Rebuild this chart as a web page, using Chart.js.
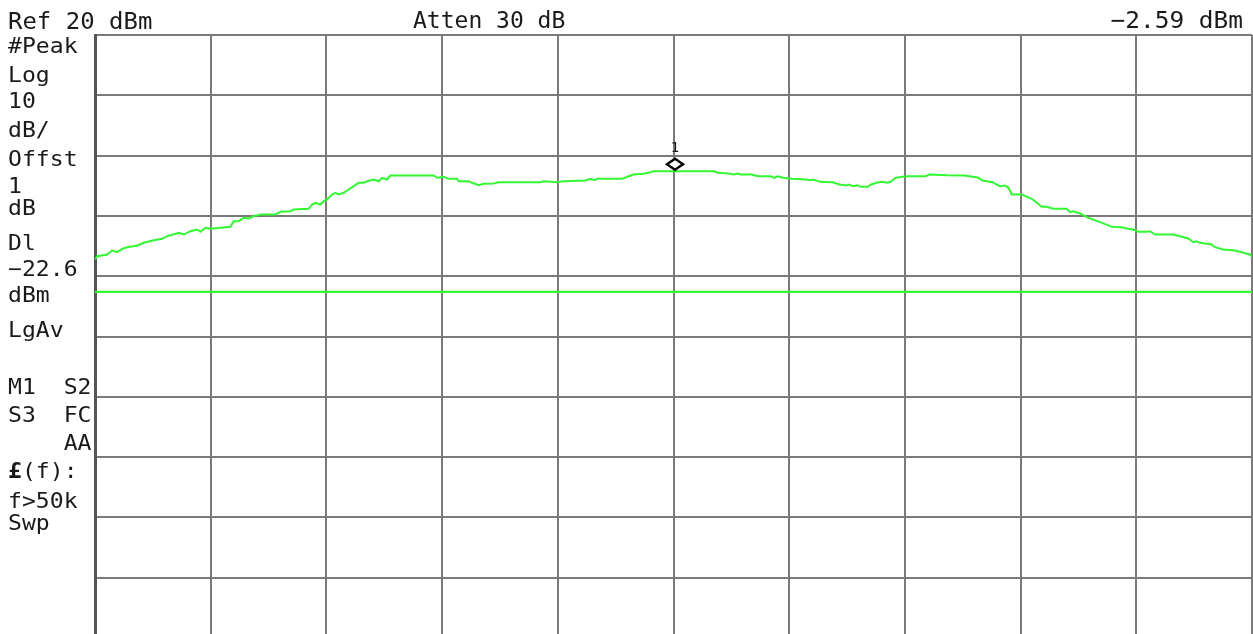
<!DOCTYPE html>
<html>
<head>
<meta charset="utf-8">
<script src="https://cdn.jsdelivr.net/npm/chart.js@4/dist/chart.umd.min.js"></script>
<style>
  html, body { margin: 0; padding: 0; background: #ffffff; overflow: hidden; }
  #wrap { position: relative; width: 1253px; height: 634px; overflow: hidden; background: #ffffff; }
  #sa { position: absolute; left: 0; top: 0; }
</style>
</head>
<body>
<div id="wrap"><canvas id="sa" width="1253" height="641"></canvas></div>
<script>
// Sweep position in graticule divisions (0 = start of sweep, 10 = stop)
const sweepPos = [
  0, 0.019, 0.105, 0.149, 0.192, 0.235, 0.278, 0.365, 0.422, 0.508,
  0.581, 0.624, 0.724, 0.767, 0.825, 0.883, 0.911, 0.955, 0.998, 1.171,
  1.199, 1.242, 1.286, 1.329, 1.372, 1.430, 1.559, 1.603, 1.689, 1.717,
  1.847, 1.876, 1.905, 1.948, 1.977, 2.006, 2.049, 2.078, 2.106, 2.149,
  2.193, 2.236, 2.279, 2.322, 2.352, 2.409, 2.452, 2.481, 2.524, 2.553,
  2.927, 2.956, 3.013, 3.057, 3.129, 3.143, 3.229, 3.259, 3.316, 3.359,
  3.445, 3.489, 3.849, 3.877, 3.993, 4.050, 4.238, 4.281, 4.324, 4.339,
  4.555, 4.612, 4.655, 4.741, 4.784, 4.828, 5.231, 5.352, 5.383, 5.475,
  5.521, 5.551, 5.581, 5.672, 5.704, 5.734, 5.840, 5.870, 5.901, 5.947,
  6.023, 6.145, 6.175, 6.206, 6.267, 6.373, 6.435, 6.495, 6.510, 6.556,
  6.587, 6.617, 6.678, 6.708, 6.754, 6.800, 6.846, 6.876, 6.922, 6.983,
  7.028, 7.181, 7.211, 7.363, 7.516, 7.638, 7.668, 7.760, 7.790, 7.823,
  7.866, 7.895, 7.924, 8.010, 8.097, 8.140, 8.183, 8.226, 8.283, 8.399,
  8.428, 8.456, 8.514, 8.586, 8.687, 8.788, 8.874, 8.931, 8.974, 9.018,
  9.090, 9.119, 9.162, 9.320, 9.393, 9.450, 9.493, 9.522, 9.551, 9.652,
  9.680, 9.752, 9.853, 9.911, 9.983, 10.0
];

// Measured trace level, dBm
const traceDbm = [
  -17.23, -16.68, -16.40, -15.74, -16.02, -15.46, -15.19, -14.91, -14.46, -14.03,
  -13.80, -13.37, -12.80, -13.09, -12.54, -12.26, -12.64, -11.97, -12.14, -11.81,
  -10.88, -10.88, -10.32, -10.43, -10.05, -9.77, -9.77, -9.32, -9.22, -8.94,
  -8.82, -8.11, -7.83, -8.11, -7.56, -7.28, -6.45, -6.17, -6.45, -6.17,
  -5.62, -5.07, -4.51, -4.51, -4.25, -3.96, -4.25, -3.68, -3.96, -3.30,
  -3.30, -3.68, -3.52, -3.85, -3.85, -4.25, -4.25, -4.51, -4.91, -4.68,
  -4.63, -4.41, -4.41, -4.25, -4.41, -4.25, -4.13, -3.85, -4.08, -3.85,
  -3.85, -3.42, -3.13, -3.02, -2.85, -2.59, -2.59, -2.59, -2.85, -2.97,
  -3.13, -2.97, -3.13, -3.13, -3.30, -3.42, -3.42, -3.68, -3.42, -3.68,
  -3.85, -3.96, -4.08, -3.96, -4.35, -4.41, -4.79, -4.96, -4.79, -5.07,
  -4.91, -5.17, -5.17, -4.79, -4.51, -4.35, -4.51, -4.35, -3.68, -3.52,
  -3.42, -3.42, -3.13, -3.25, -3.30, -3.68, -4.13, -4.41, -4.79, -5.07,
  -4.96, -5.34, -6.45, -6.45, -7.16, -7.83, -8.49, -8.49, -8.82, -8.82,
  -9.39, -9.22, -9.60, -10.32, -11.04, -11.81, -11.87, -12.14, -12.26, -12.64,
  -12.64, -12.54, -13.09, -13.09, -13.47, -13.75, -14.36, -14.20, -14.46, -14.74,
  -15.19, -15.57, -15.74, -16.02, -16.40, -16.78
];

// Instrument settings
const refLevelDbm = 20;
const dbPerDiv = 10;
const numDivs = 10;
const attenDb = 30;
const offsetDb = 1;
const displayLineDbm = -22.6;

// Marker 1
const markerPos = 5;
const markerDbm = -2.59;

const minus = '\u2212';
function fmt(v, digits) {
  return (v < 0 ? minus : '') + Math.abs(v).toFixed(digits);
}

const GREEN = '#33f733';
const INK = '#1a1a1a';
const MONO = '"DejaVu Sans Mono", "Liberation Mono", monospace';

// Side annotation panel lines
const panelLines = [
  '#Peak', 'Log', String(dbPerDiv), 'dB/', 'Offst', String(offsetDb), 'dB',
  'Dl', fmt(displayLineDbm, 1), 'dBm', 'LgAv',
  'M1  S2', 'S3  FC', '    AA', '\u00a3(f):', 'f>50k', 'Swp'
];
const panelBaselines = [53, 81.5, 108, 137, 166, 192.5, 215, 250, 275.5, 301.5, 336.5, 394, 421.5, 450, 478, 508, 530];

function drawText(ctx, text, x, y, sizePx, sx, align, weight) {
  ctx.save();
  ctx.font = (weight || 'normal') + ' ' + sizePx + 'px ' + MONO;
  ctx.textBaseline = 'alphabetic';
  ctx.textAlign = align || 'left';
  ctx.translate(x, y);
  ctx.scale(sx, 1);
  ctx.fillStyle = INK;
  ctx.fillText(text, 0, 0);
  ctx.restore();
}

const annotationPlugin = {
  id: 'analyzerAnnotations',
  afterDraw(chart) {
    const ctx = chart.ctx;
    const xs = chart.scales.x, ys = chart.scales.y;

    // Header line
    drawText(ctx, 'Ref ' + refLevelDbm + ' dBm', 8, 28.5, 23.5, 1.02);
    drawText(ctx, 'Atten ' + attenDb + ' dB', 413, 28, 23, 1.0);
    drawText(ctx, fmt(markerDbm, 2) + ' dBm', 1243, 27.5, 23.5, 1.04, 'right');

    // Left status panel
    panelLines.forEach((t, i) => {
      const y = panelBaselines[i];
      if (t.charAt(0) === '\u00a3') {
        ctx.save();
        ctx.font = 'bold 21px ' + MONO;
        const w = ctx.measureText('\u00a3').width * 1.1;
        ctx.restore();
        drawText(ctx, '\u00a3', 8, y, 21, 1.1, 'left', 'bold');
        drawText(ctx, t.slice(1), 8 + w, y, 21, 1.1);
      } else {
        drawText(ctx, t, 8, y, 21, 1.1);
      }
    });

    // Marker diamond resting on the trace, with its number above
    const mx = xs.getPixelForValue(markerPos) + 1.5;
    const my = ys.getPixelForValue(markerDbm);
    const cy = my - 7, hw = 8, hh = 5.5;
    ctx.save();
    ctx.beginPath();
    ctx.moveTo(mx, cy - hh);
    ctx.lineTo(mx + hw, cy);
    ctx.lineTo(mx, cy + hh);
    ctx.lineTo(mx - hw, cy);
    ctx.closePath();
    ctx.fillStyle = '#ffffff';
    ctx.fill();
    ctx.lineWidth = 2.4;
    ctx.strokeStyle = '#000000';
    ctx.stroke();
    ctx.restore();
    drawText(ctx, '1', mx, cy - 12.5, 14, 1.0, 'center');
  }
};

const tracePoints = sweepPos.map((p, i) => ({ x: p, y: traceDbm[i] }));
const displayLinePoints = [
  { x: 0, y: displayLineDbm },
  { x: numDivs, y: displayLineDbm }
];

new Chart(document.getElementById('sa'), {
  type: 'line',
  data: {
    datasets: [
      {
        label: 'Display line',
        data: displayLinePoints,
        borderColor: GREEN,
        borderWidth: 2.2,
        pointRadius: 0,
        tension: 0
      },
      {
        label: 'Trace',
        data: tracePoints,
        borderColor: GREEN,
        borderWidth: 2,
        pointRadius: 0,
        tension: 0
      }
    ]
  },
  options: {
    responsive: false,
    devicePixelRatio: 1,
    animation: false,
    events: [],
    layout: { padding: { left: 95, top: 35, right: 1, bottom: 3 } },
    plugins: {
      legend: { display: false },
      tooltip: { enabled: false },
      title: { display: false }
    },
    scales: {
      x: {
        type: 'linear',
        min: 0,
        max: numDivs,
        ticks: { display: false, stepSize: 1 },
        grid: { color: '#7a7a7a', lineWidth: 2, drawTicks: false },
        border: { display: false }
      },
      y: {
        type: 'linear',
        min: refLevelDbm - dbPerDiv * numDivs,
        max: refLevelDbm,
        ticks: { display: false, stepSize: dbPerDiv },
        grid: { color: '#7a7a7a', lineWidth: 2, drawTicks: false },
        border: { display: true, color: '#555555', width: 3 }
      }
    }
  },
  plugins: [annotationPlugin]
});
</script>
</body>
</html>
